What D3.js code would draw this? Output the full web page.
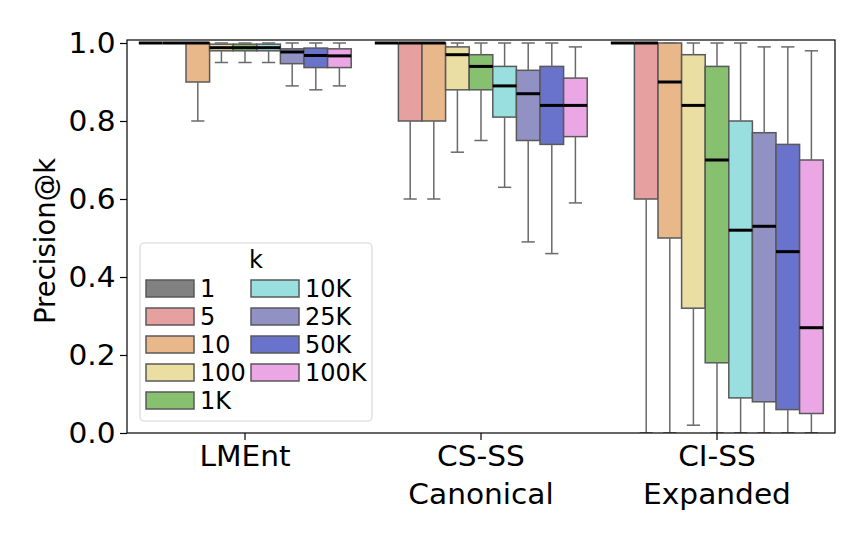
<!DOCTYPE html>
<html>
<head>
<meta charset="utf-8">
<script src="https://cdn.jsdelivr.net/npm/d3@7"></script>
<style>
  body { margin: 0; background: #fff; }
  svg text { font-family: "DejaVu Sans", "Noto Sans", sans-serif !important; }
</style>
</head>
<body>
<svg id="chart" width="867" height="542"></svg>
<script>
/*************************************************************************/
// data

const groups = ["LMEnt", "CS-SS\nCanonical", "CI-SS\nExpanded"];
const ks = ["1", "5", "10", "100", "1K", "10K", "25K", "50K", "100K"];
const colors = ["#818181", "#e6a0a0", "#e8b88a", "#ebdea3", "#87c06e",
                "#9adfe0", "#9191c4", "#6a73cc", "#eba6e5"];
const yTicks = [0.0, 0.2, 0.4, 0.6, 0.8, 1.0];

// one row per group, one value per k
const whisLo = [
    [1.0, 1.0, 0.80, 0.95, 0.95, 0.95, 0.89, 0.88, 0.89],
    [1.0, 0.60, 0.60, 0.72, 0.75, 0.63, 0.49, 0.46, 0.59],
    [1.0, 0.0, 0.0, 0.02, 0.0, 0.0, 0.0, 0.0, 0.0]
];
const q1 = [
    [1.0, 1.0, 0.90, 0.98, 0.98, 0.98, 0.947, 0.937, 0.937],
    [1.0, 0.80, 0.80, 0.88, 0.88, 0.81, 0.75, 0.74, 0.76],
    [1.0, 0.60, 0.50, 0.32, 0.18, 0.09, 0.08, 0.06, 0.05]
];
const med = [
    [1.0, 1.0, 1.0, 0.988, 0.988, 0.988, 0.977, 0.968, 0.967],
    [1.0, 1.0, 1.0, 0.97, 0.94, 0.89, 0.87, 0.84, 0.84],
    [1.0, 1.0, 0.90, 0.84, 0.70, 0.52, 0.53, 0.465, 0.27]
];
const q3 = [
    [1.0, 1.0, 1.0, 0.997, 0.997, 0.997, 0.985, 0.987, 0.985],
    [1.0, 1.0, 1.0, 0.99, 0.97, 0.94, 0.93, 0.94, 0.91],
    [1.0, 1.0, 1.0, 0.97, 0.94, 0.80, 0.77, 0.74, 0.70]
];
const whisHi = [
    [1.0, 1.0, 1.0, 1.0, 1.0, 1.0, 1.0, 1.0, 1.0],
    [1.0, 1.0, 1.0, 1.0, 1.0, 1.0, 1.0, 1.0, 0.99],
    [1.0, 1.0, 1.0, 1.0, 1.0, 1.0, 0.99, 0.99, 0.98]
];

/*************************************************************************/

const svg = d3.select("#chart");
const margin = { left: 127, right: 835, top: 40, bottom: 433 };

const x = d3.scaleBand()
    .domain(groups)
    .range([margin.left, margin.right])
    .paddingInner(0.1)
    .paddingOuter(0.05);

const xk = d3.scaleBand()
    .domain(ks)
    .range([0, x.bandwidth()]);

const y = d3.scaleLinear()
    .domain([0, 1.0077])
    .range([margin.bottom, margin.top]);

const boxes = [];
groups.forEach((g, gi) => {
    ks.forEach((k, ki) => {
        boxes.push({
            group: g, k: k, color: colors[ki],
            lo: whisLo[gi][ki], q1: q1[gi][ki], med: med[gi][ki],
            q3: q3[gi][ki], hi: whisHi[gi][ki]
        });
    });
});

svg.append("defs").append("clipPath").attr("id", "plotClip")
    .append("rect")
    .attr("x", margin.left).attr("y", margin.top)
    .attr("width", margin.right - margin.left)
    .attr("height", margin.bottom - margin.top);

const plot = svg.append("g").attr("clip-path", "url(#plotClip)");

const bx = d => x(d.group) + xk(d.k);
const bw = xk.bandwidth();

/*************************************************************************/
// boxes, whiskers, caps, medians

plot.append("g").selectAll("rect")
    .data(boxes)
    .enter().append("rect")
    .attr("x", d => bx(d))
    .attr("y", d => y(d.q3))
    .attr("width", bw)
    .attr("height", d => y(d.q1) - y(d.q3))
    .attr("fill", d => d.color)
    .attr("stroke", "#595959")
    .attr("stroke-width", 1.5);

const whisk = plot.append("g")
    .attr("stroke", "#6a6a6a")
    .attr("stroke-width", 1.5);

whisk.selectAll(".wlo")
    .data(boxes)
    .enter().append("line")
    .attr("x1", d => bx(d) + bw / 2).attr("x2", d => bx(d) + bw / 2)
    .attr("y1", d => y(d.q1)).attr("y2", d => y(d.lo));

whisk.selectAll(".whi")
    .data(boxes)
    .enter().append("line")
    .attr("x1", d => bx(d) + bw / 2).attr("x2", d => bx(d) + bw / 2)
    .attr("y1", d => y(d.q3)).attr("y2", d => y(d.hi));

whisk.selectAll(".clo")
    .data(boxes)
    .enter().append("line")
    .attr("x1", d => bx(d) + bw * 0.22).attr("x2", d => bx(d) + bw * 0.78)
    .attr("y1", d => y(d.lo)).attr("y2", d => y(d.lo));

whisk.selectAll(".chi")
    .data(boxes)
    .enter().append("line")
    .attr("x1", d => bx(d) + bw * 0.22).attr("x2", d => bx(d) + bw * 0.78)
    .attr("y1", d => y(d.hi)).attr("y2", d => y(d.hi));

plot.append("g").selectAll("line")
    .data(boxes)
    .enter().append("line")
    .attr("x1", d => bx(d)).attr("x2", d => bx(d) + bw)
    .attr("y1", d => y(d.med)).attr("y2", d => y(d.med))
    .attr("stroke", "#000")
    .attr("stroke-width", 3);

/*************************************************************************/
// axes

const yAxis = svg.append("g")
    .attr("transform", `translate(${margin.left},0)`)
    .call(d3.axisLeft(y).tickValues(yTicks).tickFormat(d3.format(".1f")).tickSize(7).tickPadding(4));
yAxis.select(".domain").remove();
yAxis.selectAll("text")
    .attr("font-size", 28.5)
    .attr("fill", "#000")
    .attr("transform", "scale(1.04,1)");
yAxis.selectAll("line").attr("stroke", "#000").attr("stroke-width", 1.2);

const xAxis = svg.append("g")
    .attr("transform", `translate(0,${margin.bottom})`)
    .call(d3.axisBottom(x).tickSize(7).tickFormat(""));
xAxis.select(".domain").remove();
xAxis.selectAll("line").attr("stroke", "#000").attr("stroke-width", 1.2);

xAxis.selectAll(".tick").each(function(d){
    const t = d3.select(this).append("text")
        .attr("text-anchor", "middle")
        .attr("font-size", 28.5)
        .attr("fill", "#000")
        .attr("transform", "scale(1.04,1)");
    d.split("\n").forEach((line, i) => {
        t.append("tspan").attr("x", 0).attr("y", 33.5 + i * 38).text(line);
    });
});

svg.append("rect")
    .attr("x", margin.left).attr("y", margin.top)
    .attr("width", margin.right - margin.left)
    .attr("height", margin.bottom - margin.top)
    .attr("fill", "none")
    .attr("stroke", "#000")
    .attr("stroke-width", 1.2);

svg.append("text")
    .attr("transform", "translate(55,241) rotate(-90)")
    .attr("text-anchor", "middle")
    .attr("font-size", 27.5)
    .text("Precision@k");

/*************************************************************************/
// legend

const legend = svg.append("g");
legend.append("rect")
    .attr("x", 140).attr("y", 243)
    .attr("width", 232).attr("height", 178)
    .attr("rx", 4)
    .attr("fill", "#fff").attr("fill-opacity", 0.8)
    .attr("stroke", "#d6d6d6").attr("stroke-width", 1.2);

legend.append("text")
    .attr("x", 256).attr("y", 268)
    .attr("text-anchor", "middle")
    .attr("font-size", 24)
    .text("k");

const items = legend.selectAll(".item")
    .data(ks)
    .enter().append("g")
    .attr("transform", (d, i) => `translate(${i < 5 ? 146 : 251},${288.5 + (i % 5) * 28})`);

items.append("rect")
    .attr("x", 0).attr("y", -8.5)
    .attr("width", 48).attr("height", 17)
    .attr("fill", (d, i) => colors[i])
    .attr("stroke", "#595959").attr("stroke-width", 1.5);

items.append("text")
    .attr("x", 54).attr("y", 8.5)
    .attr("font-size", 24)
    .text(d => d);

</script>
</body>
</html>
